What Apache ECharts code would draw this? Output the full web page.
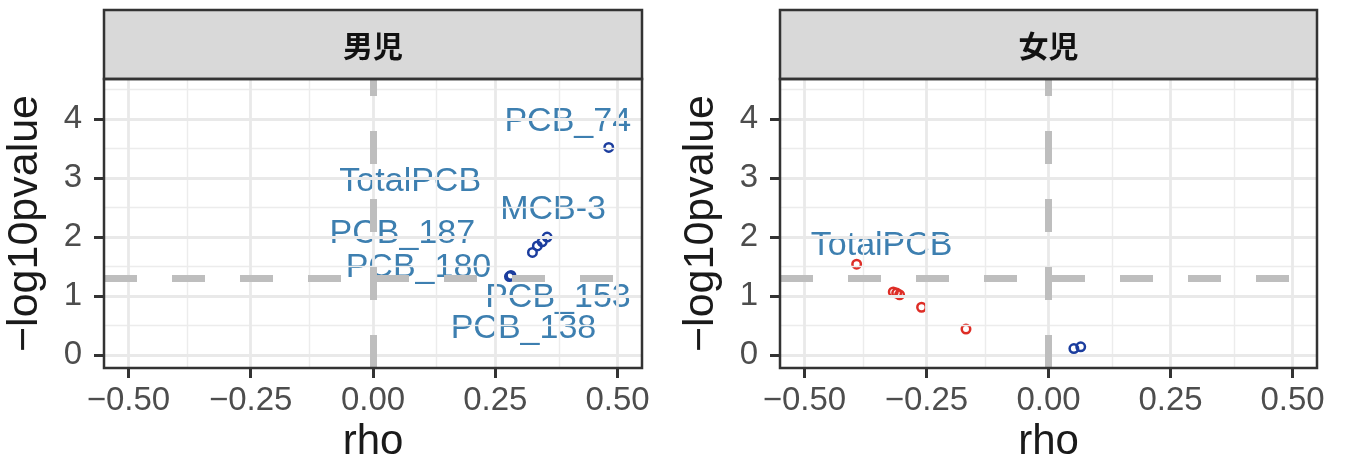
<!DOCTYPE html>
<html>
<head>
<meta charset="utf-8">
<script src="https://cdn.jsdelivr.net/npm/echarts@6/dist/echarts.min.js"></script>
<style>
  html, body { margin: 0; padding: 0; background: #fff; }
  #chart { width: 1347px; height: 470px; }
</style>
</head>
<body>
<div id="chart"></div>
<script>
// facet titles
const panels = ["男児", "女児"];

// axis ticks
const rhoTicks = [-0.5, -0.25, 0, 0.25, 0.5];
const rhoMinor = [-0.375, -0.125, 0.125, 0.375];
const pTicks = [0, 1, 2, 3, 4];
const pMinor = [0.5, 1.5, 2.5, 3.5, 4.5];

// -log10(0.05) threshold line
const sigLine = 1.301;

// 男児
const maleNames = ["PCB_74", "MCB-3", "TotalPCB", "PCB_187", "PCB_180", "PCB_153", "PCB_138"];
const maleRho = [0.482, 0.356, 0.346, 0.336, 0.326, 0.282, 0.279];
const maleLogP = [3.52, 2.0, 1.92, 1.85, 1.74, 1.35, 1.33];

// 女児
const femaleNames = ["TotalPCB", "", "", "", "", "", "", ""];
const femaleRho = [-0.393, -0.318, -0.311, -0.305, -0.26, -0.169, 0.052, 0.066];
const femaleLogP = [1.54, 1.07, 1.05, 1.02, 0.81, 0.44, 0.11, 0.14];

// layout
const FONT = '"Liberation Sans", Arial, sans-serif';
const grids = [
  { left: 104, top: 79, width: 538, height: 289 },
  { left: 780, top: 79, width: 537, height: 289 },
];
const stripTop = 10;
// label offsets (px) from each point, as placed in the figure
const labelOffset = [
  { "PCB_74": [-41, -26], "MCB-3": [6, -27], "TotalPCB": [-132, -60], "PCB_187": [-135, -12],
    "PCB_180": [-114, 15], "PCB_153": [47, 22], "PCB_138": [14, 52] },
  { "TotalPCB": [25, -19] },
];

const BLUE = "#1b3d9e";
const RED = "#de2d26";
const LABEL = "#3d7fb0";

const chart = echarts.init(document.getElementById("chart"));

function fmtRho(v) {
  return v.toFixed(2).replace("-", "\u2212");
}

function pointData(names, rho, logp, offs) {
  return rho.map((r, k) => {
    const name = names[k];
    return {
      value: [r, logp[k]],
      itemStyle: { color: "rgba(0,0,0,0)", borderColor: r < 0 ? RED : BLUE, borderWidth: 2.5, opacity: 1 },
      label: {
        show: !!name,
        formatter: name,
        position: "inside",
        offset: offs[name] || [0, 0],
        color: LABEL,
        fontSize: 34,
        fontFamily: FONT,
      },
    };
  });
}

const xAxis = [], yAxis = [], series = [], graphic = [];
const sets = [
  [maleNames, maleRho, maleLogP],
  [femaleNames, femaleRho, femaleLogP],
];

grids.forEach((g, i) => {
  xAxis.push({
    gridIndex: i,
    type: "value",
    min: -0.55,
    max: 0.55,
    axisLine: { show: false, onZero: false },
    axisTick: { show: true, customValues: rhoTicks, length: 10, lineStyle: { color: "#333", width: 3 } },
    axisLabel: { customValues: rhoTicks, formatter: fmtRho, margin: 16, fontSize: 33, color: "#4d4d4d", fontFamily: FONT },
    splitLine: { show: false },
    name: "rho",
    nameLocation: "middle",
    nameGap: 49,
    nameTextStyle: { fontSize: 42, color: "#1a1a1a", fontFamily: FONT },
  });
  yAxis.push({
    gridIndex: i,
    type: "value",
    min: -0.22,
    max: 4.68,
    axisLine: { show: false, onZero: false },
    axisTick: { show: true, customValues: pTicks, length: 10, lineStyle: { color: "#333", width: 3 } },
    axisLabel: { customValues: pTicks, margin: 22, fontSize: 33, color: "#4d4d4d", fontFamily: FONT },
    splitLine: { show: false },
    name: "\u2212log10pvalue",
    nameLocation: "middle",
    nameGap: 57,
    nameTextStyle: { fontSize: 43, color: "#1a1a1a", fontFamily: FONT },
  });

  // background grid
  const major = { color: "#e9e9e9", width: 2.8, type: "solid" };
  const minor = { color: "#ececec", width: 1.4, type: "solid" };
  series.push({
    type: "scatter",
    xAxisIndex: i,
    yAxisIndex: i,
    data: [],
    silent: true,
    z: 1,
    markLine: {
      silent: true,
      animation: false,
      symbol: ["none", "none"],
      label: { show: false },
      emphasis: { disabled: true },
      data: [
        ...rhoMinor.map((v) => ({ xAxis: v, lineStyle: minor })),
        ...pMinor.map((v) => ({ yAxis: v, lineStyle: minor })),
        ...rhoTicks.map((v) => ({ xAxis: v, lineStyle: major })),
        ...pTicks.map((v) => ({ yAxis: v, lineStyle: major })),
      ],
    },
  });

  // reference lines
  series.push({
    type: "scatter",
    xAxisIndex: i,
    yAxisIndex: i,
    data: [],
    silent: true,
    z: 2,
    markLine: {
      silent: true,
      animation: false,
      symbol: ["none", "none"],
      label: { show: false },
      emphasis: { disabled: true },
      lineStyle: { color: "#bebebe", width: 7, type: [33, 35], opacity: 1 },
      data: [{ xAxis: 0 }, { yAxis: sigLine }],
    },
  });

  // points
  const [n, r, p] = sets[i];
  series.push({
    type: "scatter",
    xAxisIndex: i,
    yAxisIndex: i,
    symbol: "circle",
    symbolSize: 8.5,
    itemStyle: { opacity: 1 },
    z: 3,
    data: pointData(n, r, p, labelOffset[i]),
  });

  // strip
  graphic.push({
    type: "rect",
    shape: { x: g.left, y: stripTop, width: g.width, height: g.top - stripTop },
    style: { fill: "#d9d9d9", stroke: "#333", lineWidth: 2.5 },
    z: 100,
  });
  graphic.push({
    type: "text",
    style: {
      text: panels[i],
      x: g.left + g.width / 2,
      y: (stripTop + g.top) / 2 + 1,
      align: "center",
      verticalAlign: "middle",
      font: 'bold 30px "Noto Sans CJK JP"',
      fill: "#111",
    },
    z: 101,
  });
  // panel border
  graphic.push({
    type: "rect",
    shape: { x: g.left, y: g.top, width: g.width, height: g.height },
    style: { fill: "none", stroke: "#333", lineWidth: 2.5 },
    z: 100,
  });
});

chart.setOption({
  animation: false,
  grid: grids.map((g) => ({ ...g, containLabel: false, show: true, backgroundColor: "#fff", borderWidth: 0 })),
  xAxis,
  yAxis,
  series,
  graphic,
});
</script>
</body>
</html>
